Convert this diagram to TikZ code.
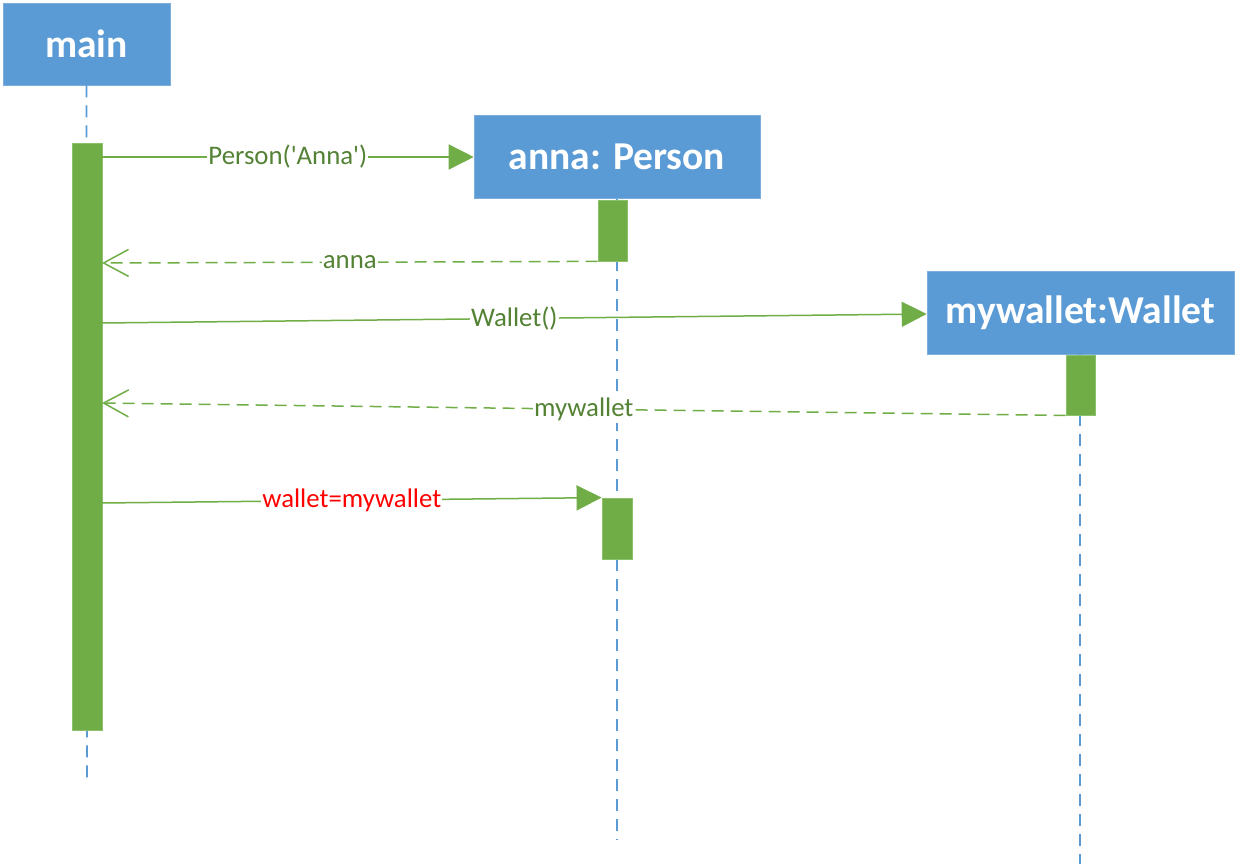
\documentclass[tikz,border=0pt]{standalone}
\usepackage{fontspec}
\setmainfont{Carlito}
\usetikzlibrary{arrows.meta}
\definecolor{boxblue}{HTML}{5B9BD5}
\definecolor{bargreen}{HTML}{70AD47}
\definecolor{bardraw}{HTML}{8CC06A}
\definecolor{labgreen}{HTML}{548235}
\definecolor{msgred}{HTML}{FF0000}
\tikzset{
  objbox/.style={rectangle, fill=boxblue, draw=boxblue!80!white, line width=0.6pt, text=white,
    font=\fontsize{39.5}{44}\selectfont\bfseries, inner sep=0pt},
  actbar/.style={rectangle, fill=bargreen, draw=bardraw, line width=0.8pt, inner sep=0pt, minimum width=29pt},
  lifeline/.style={draw=boxblue, line width=1.6pt, dash pattern=on 12pt off 8pt},
  callmsg/.style={draw=bargreen, line width=1.5pt, -{Triangle[length=25pt,width=25pt]}},
  retmsg/.style={draw=bargreen, line width=1.5pt, dash pattern=on 12pt off 7pt,
    -{Straight Barb[length=25pt,width=27pt,line width=1.5pt]}},
  msglabel/.style={fill=white, inner xsep=1pt, inner ysep=2pt, text=labgreen,
    font=\fontsize{26.8}{30}\selectfont}
}
\begin{document}
\begin{tikzpicture}[x=1pt,y=-1pt]
\useasboundingbox (0,0) rectangle (1239,864);
% object boxes
\node[objbox, minimum width=167pt, minimum height=82pt] (main) at (86.5,44) {main};
\node[objbox, minimum width=286pt, minimum height=83pt] (anna) at (617,157) {anna: Person};
\node[objbox, minimum width=307pt, minimum height=83pt] (wallet) at (1080.5,312.5) {mywallet:Wallet};
% lifeline ends
\coordinate (mainend) at (87,778);
\coordinate (annaend) at (617,840);
\coordinate (walletend) at (1080,864);
\draw[lifeline] (main.south) -- (mainend);
\draw[lifeline] (anna.south) -- (annaend);
\draw[lifeline] (wallet.south -| walletend) -- (walletend);
% activation bars
\node[actbar, minimum width=30pt, minimum height=587pt] (mainbar) at (87,436.5) {};
\node[actbar, minimum height=61pt] (annabar) at (612.5,230.5) {};
\node[actbar, minimum width=30pt, minimum height=61pt] (annabar2) at (617,528.5) {};
\node[actbar, minimum height=60pt] (walletbar) at (1080.5,385) {};
% message end points on main bar
\coordinate (m1) at (102,157);
\coordinate (m2) at (102,263);
\coordinate (m3) at (102,323);
\coordinate (m4) at (102,403);
\coordinate (m5) at (102,503);
% messages
\draw[callmsg] (m1) -- node[msglabel]{Person(\textquotesingle Anna\textquotesingle)} (anna.west);
\draw[retmsg] (annabar.south west) -- node[msglabel]{anna} (m2);
\draw[callmsg] (m3) -- node[msglabel]{Wallet()} (wallet.west |- 0,314);
\draw[retmsg] (walletbar.south west) -- node[msglabel]{mywallet} (m4);
\draw[callmsg] (m5) -- node[msglabel, text=msgred]{wallet=mywallet} (annabar2.north west);
\end{tikzpicture}
\end{document}
